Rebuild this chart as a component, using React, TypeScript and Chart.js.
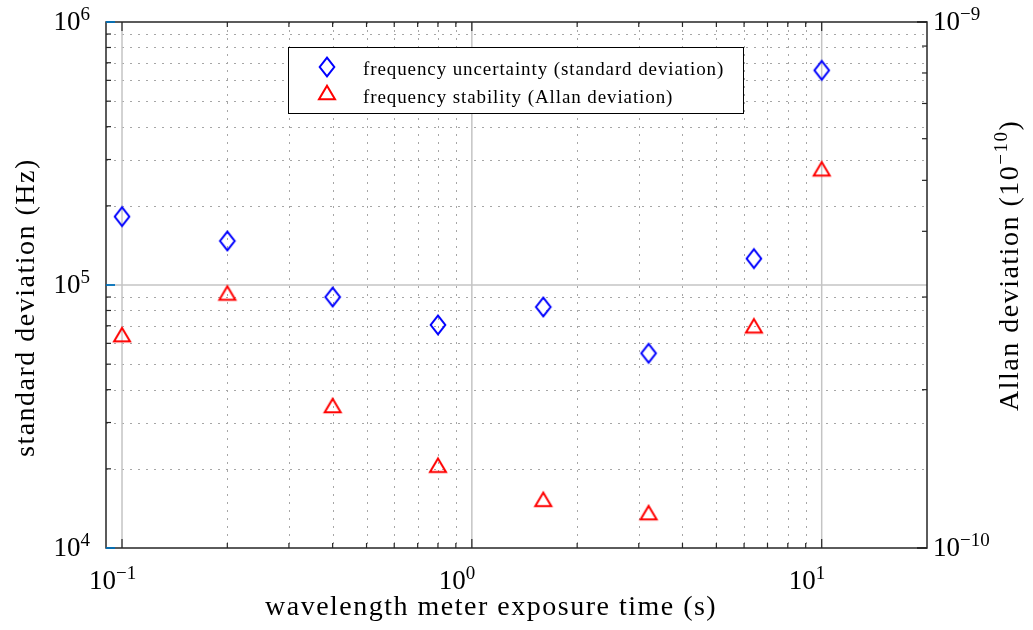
import { useEffect, useRef } from "react";
import { Chart, registerables } from "chart.js";

Chart.register(...registerables);

// Exposure times (s) and the two measured deviations
const exposureTimes = [0.1, 0.2, 0.4, 0.8, 1.6, 3.2, 6.4, 10];
const standardDeviationHz = [1.82e5, 1.47e5, 9.0e4, 7.05e4, 8.25e4, 5.5e4, 1.26e5, 6.55e5];
const allanDeviation = [2.55e-10, 3.06e-10, 1.87e-10, 1.44e-10, 1.24e-10, 1.17e-10, 2.65e-10, 5.27e-10];

const seriesLabels = [
  "frequency uncertainty (standard deviation)",
  "frequency stability (Allan deviation)",
];

const xRange = [0.09, 20];
const yRange = [1e4, 1e6];
const y2Range = [1e-10, 1e-9];

const xMajorTicks = [0.1, 1, 10];
const xTickExponents = ["\u22121", "0", "1"];
const yMajorTicks = [1e4, 1e5, 1e6];
const yTickExponents = ["4", "5", "6"];
const y2MajorTicks = [1e-10, 1e-9];
const y2TickExponents = ["\u221210", "\u22129"];

const xTitle = "wavelength meter exposure time (s)";
const yTitle = "standard deviation (Hz)";
const y2TitleParts = ["Allan deviation (10", "\u221210", ")"];

const SERIF = "'Liberation Serif', 'Times New Roman', 'DejaVu Serif', serif";
const BLUE = "#0000ff";
const RED = "#ff0000";
const AXIS = "#262626";
const AXIS_BLUE = "#0072bd";

function minorTicks(min: number, max: number, majors: number[]) {
  const out: number[] = [];
  const k0 = Math.floor(Math.log10(min));
  const k1 = Math.ceil(Math.log10(max));
  for (let k = k0; k <= k1; k++) {
    for (let m = 2; m <= 9; m++) {
      const v = m * Math.pow(10, k);
      if (v > min * 1.0001 && v < max * 0.9999 && !majors.some((t) => Math.abs(t - v) / t < 1e-6)) out.push(v);
    }
  }
  return out;
}

function makeDiamond() {
  const c = document.createElement("canvas");
  c.width = 22;
  c.height = 26;
  const g = c.getContext("2d")!;
  g.strokeStyle = BLUE;
  g.lineWidth = 2;
  g.lineJoin = "miter";
  g.beginPath();
  g.moveTo(11, 13 - 9.4);
  g.lineTo(11 + 7.3, 13);
  g.lineTo(11, 13 + 9.4);
  g.lineTo(11 - 7.3, 13);
  g.closePath();
  g.stroke();
  return c;
}

function makeTriangle() {
  const c = document.createElement("canvas");
  c.width = 24;
  c.height = 22;
  const g = c.getContext("2d")!;
  g.strokeStyle = RED;
  g.lineWidth = 2;
  g.lineJoin = "miter";
  g.beginPath();
  g.moveTo(12, 4.7);
  g.lineTo(12 + 8, 18.2);
  g.lineTo(12 - 8, 18.2);
  g.closePath();
  g.stroke();
  return c;
}

function drawPower(
  ctx: CanvasRenderingContext2D,
  exp: string,
  x: number,
  y: number,
  align: "left" | "right"
) {
  ctx.textAlign = "left";
  ctx.textBaseline = "alphabetic";
  ctx.font = `27px ${SERIF}`;
  const wb = ctx.measureText("10").width;
  ctx.font = `19px ${SERIF}`;
  const we = ctx.measureText(exp).width;
  const x0 = align === "left" ? x : x - wb - we;
  ctx.fillStyle = "#000";
  ctx.font = `27px ${SERIF}`;
  ctx.fillText("10", x0, y);
  ctx.font = `19px ${SERIF}`;
  ctx.fillText(exp, x0 + wb, y - 10);
}

export default function App() {
  const canvasRef = useRef<HTMLCanvasElement | null>(null);

  useEffect(() => {
    const canvas = canvasRef.current;
    if (!canvas) return;
    const diamond = makeDiamond();
    const triangle = makeTriangle();

    const xMinor = minorTicks(xRange[0], xRange[1], xMajorTicks);
    const yMinor = minorTicks(yRange[0], yRange[1], yMajorTicks);
    const y2Minor = minorTicks(y2Range[0], y2Range[1], y2MajorTicks);

    const framePlugin = {
      id: "frame",
      beforeDatasetsDraw(chart: any) {
        const ctx: CanvasRenderingContext2D = chart.ctx;
        const { left, right, top, bottom } = chart.chartArea;
        const xs = chart.scales.x;
        const ys = chart.scales.y;
        ctx.save();
        // dotted minor grid
        ctx.strokeStyle = "#a6a6a6";
        ctx.lineWidth = 1;
        ctx.setLineDash([2, 6]);
        for (const v of xMinor) {
          const px = Math.round(xs.getPixelForValue(v)) + 0.5;
          ctx.beginPath();
          ctx.moveTo(px, top);
          ctx.lineTo(px, bottom);
          ctx.stroke();
        }
        for (const v of yMinor) {
          const py = Math.round(ys.getPixelForValue(v)) + 0.5;
          ctx.beginPath();
          ctx.moveTo(left, py);
          ctx.lineTo(right, py);
          ctx.stroke();
        }
        // solid major grid
        ctx.setLineDash([]);
        ctx.strokeStyle = "#c4c4c4";
        ctx.lineWidth = 1.5;
        for (const v of xMajorTicks) {
          const px = xs.getPixelForValue(v);
          ctx.beginPath();
          ctx.moveTo(px, top);
          ctx.lineTo(px, bottom);
          ctx.stroke();
        }
        for (const v of yMajorTicks.slice(1, -1)) {
          const py = ys.getPixelForValue(v);
          ctx.beginPath();
          ctx.moveTo(left, py);
          ctx.lineTo(right, py);
          ctx.stroke();
        }
        ctx.restore();
      },
      afterDatasetsDraw(chart: any) {
        const ctx: CanvasRenderingContext2D = chart.ctx;
        const { left, right, top, bottom } = chart.chartArea;
        const xs = chart.scales.x;
        const ys = chart.scales.y;
        const y2s = chart.scales.y2;
        ctx.save();

        // legend
        ctx.fillStyle = "#fff";
        ctx.fillRect(288, 47, 455, 66);
        ctx.strokeStyle = "#000";
        ctx.lineWidth = 1;
        ctx.strokeRect(288.5, 47.5, 455, 66);
        ctx.drawImage(diamond, 327 - diamond.width / 2, 67 - diamond.height / 2);
        ctx.drawImage(triangle, 327 - triangle.width / 2, 92 - triangle.height / 2);
        ctx.fillStyle = "#000";
        ctx.font = `19px ${SERIF}`;
        (ctx as any).letterSpacing = "0.9px";
        ctx.textAlign = "left";
        ctx.textBaseline = "alphabetic";
        ctx.fillText(seriesLabels[0], 363, 75);
        ctx.fillText(seriesLabels[1], 363, 103);
        (ctx as any).letterSpacing = "0px";

        // axes box
        ctx.strokeStyle = AXIS;
        ctx.lineWidth = 1.5;
        ctx.strokeRect(left, top, right - left, bottom - top);

        const seg = (x1: number, y1: number, x2: number, y2: number, color: string, w = 1.2) => {
          ctx.strokeStyle = color;
          ctx.lineWidth = w;
          ctx.beginPath();
          ctx.moveTo(x1, y1);
          ctx.lineTo(x2, y2);
          ctx.stroke();
        };

        // ticks, all pointing inward
        for (const v of xMajorTicks) {
          const px = xs.getPixelForValue(v);
          seg(px, bottom, px, bottom - 9, AXIS);
          seg(px, top, px, top + 9, AXIS);
        }
        for (const v of xMinor) {
          const px = xs.getPixelForValue(v);
          seg(px, bottom, px, bottom - 5, AXIS);
          seg(px, top, px, top + 5, AXIS);
        }
        for (const v of yMinor) {
          const py = ys.getPixelForValue(v);
          seg(left, py, left + 5, py, AXIS);
        }
        for (const v of yMajorTicks) {
          const py = ys.getPixelForValue(v);
          seg(left, py, left + 9, py, AXIS_BLUE, 1.8);
        }
        for (const v of y2Minor) {
          const py = y2s.getPixelForValue(v);
          seg(right, py, right - 5, py, AXIS);
        }
        for (const v of y2MajorTicks) {
          const py = y2s.getPixelForValue(v);
          seg(right, py, right - 10, py, AXIS, 1.8);
        }

        // tick labels
        xMajorTicks.forEach((v, i) => {
          const px = xs.getPixelForValue(v);
          drawPower(ctx, xTickExponents[i], px - 33, 589, "left");
        });
        yMajorTicks.forEach((v, i) => {
          const py = ys.getPixelForValue(v);
          drawPower(ctx, yTickExponents[i], 90, py + 8, "right");
        });
        y2MajorTicks.forEach((v, i) => {
          const py = y2s.getPixelForValue(v);
          drawPower(ctx, y2TickExponents[i], right + 6, py + 8, "left");
        });

        // axis titles
        ctx.fillStyle = "#000";
        ctx.textAlign = "left";
        ctx.textBaseline = "alphabetic";
        (ctx as any).letterSpacing = "1.5px";
        ctx.font = `28px ${SERIF}`;
        ctx.fillText(xTitle, 265, 615);

        ctx.save();
        ctx.translate(34, 457);
        ctx.rotate(-Math.PI / 2);
        ctx.fillText(yTitle, 0, 0);
        ctx.restore();

        ctx.save();
        ctx.translate(1018, 411);
        ctx.rotate(-Math.PI / 2);
        ctx.font = `28px ${SERIF}`;
        ctx.fillText(y2TitleParts[0], 0, 0);
        let off = ctx.measureText(y2TitleParts[0]).width;
        ctx.font = `19px ${SERIF}`;
        ctx.fillText(y2TitleParts[1], off, -11);
        off += ctx.measureText(y2TitleParts[1]).width;
        ctx.font = `28px ${SERIF}`;
        ctx.fillText(y2TitleParts[2], off, 0);
        ctx.restore();

        (ctx as any).letterSpacing = "0px";
        ctx.restore();
      },
    };

    const chart = new Chart(canvas, {
      type: "scatter",
      data: {
        datasets: [
          {
            label: seriesLabels[0],
            data: exposureTimes.map((t, i) => ({ x: t, y: standardDeviationHz[i] })),
            yAxisID: "y",
            pointStyle: diamond,
            pointRadius: 10,
            borderColor: BLUE,
            backgroundColor: BLUE,
          },
          {
            label: seriesLabels[1],
            data: exposureTimes.map((t, i) => ({ x: t, y: allanDeviation[i] })),
            yAxisID: "y2",
            pointStyle: triangle,
            pointRadius: 10,
            borderColor: RED,
            backgroundColor: RED,
          },
        ],
      },
      options: {
        responsive: false,
        animation: false,
        events: [],
        layout: { padding: { top: 22, left: 0, right: 0, bottom: 0 } },
        plugins: {
          legend: { display: false },
          tooltip: { enabled: false },
          title: { display: false },
        },
        scales: {
          x: {
            type: "logarithmic",
            min: xRange[0],
            max: xRange[1],
            ticks: { display: false },
            grid: { display: false },
            border: { display: false },
            afterFit: (s: any) => {
              s.height = 82;
            },
          },
          y: {
            type: "logarithmic",
            position: "left",
            min: yRange[0],
            max: yRange[1],
            ticks: { display: false },
            grid: { display: false },
            border: { display: false },
            afterFit: (s: any) => {
              s.width = 106;
            },
          },
          y2: {
            type: "logarithmic",
            position: "right",
            min: y2Range[0],
            max: y2Range[1],
            ticks: { display: false },
            grid: { display: false },
            border: { display: false },
            afterFit: (s: any) => {
              s.width = 106;
            },
          },
        },
      },
      plugins: [framePlugin],
    } as any);

    return () => chart.destroy();
  }, []);

  return (
    <div style={{ position: "fixed", left: 0, top: 0, width: 1033, height: 630, background: "#fff" }}>
      <canvas ref={canvasRef} width={1033} height={630} style={{ display: "block" }} />
    </div>
  );
}
